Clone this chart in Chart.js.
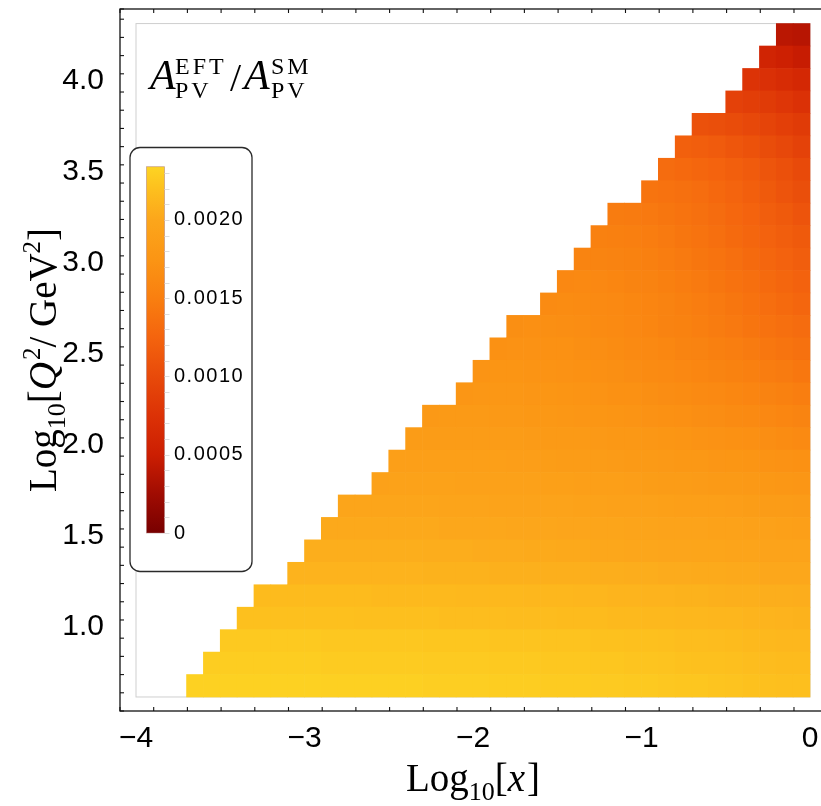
<!DOCTYPE html>
<html><head><meta charset="utf-8">
<script src="https://cdn.jsdelivr.net/npm/chart.js@4/dist/chart.umd.min.js"></script>
<style>
html,body{margin:0;padding:0;background:#fff;overflow:hidden;}
#wrap{width:821px;height:806px;overflow:hidden;position:relative;background:#fff;}
canvas{display:block;}
</style></head><body>
<div id="wrap"><canvas id="c" width="832" height="806"></canvas></div>
<script>
// ---------------- data ----------------
const xLabelTicks = [-4, -3, -2, -1, 0];
const yLabelTicks = [1.0, 1.5, 2.0, 2.5, 3.0, 3.5, 4.0];
const xMin = -4, xMax = 0, xBin = 0.1;          // log10 x
const yMin = 0.602, yMax = 4.301, nRows = 30;   // log10 Q^2
const valueUnit = 1e-5;                          // cell values below are in units of 1e-5
const rowStartX = [-3.7,-3.6,-3.5,-3.4,-3.3,-3.1,-3.0,-2.9,-2.8,-2.6,-2.5,-2.4,-2.3,-2.1,-2.0,-1.9,-1.8,-1.6,-1.5,-1.4,-1.3,-1.2,-1.0,-0.9,-0.8,-0.7,-0.5,-0.4,-0.3,-0.2];

const row00 = [232,232,232,232,232,232,232,232,231,231, 231,231,231,231,230,230,230,230,229,229, 229,228,228,228,227,227,226,226,225,224, 224,223,222,221,220,219,219];
const row01 = [229,229,229,229,229,229,229,228,228,228, 228,228,228,227,227,227,227,226,226,226, 225,225,225,224,224,223,223,222,221,220, 220,219,218,217,216,216];
const row02 = [226,226,226,226,226,226,225,225,225,225, 225,225,224,224,224,224,223,223,223,222, 222,222,221,221,220,220,219,218,218,217, 216,215,214,213,213];
const row03 = [220,220,220,220,220,220,220,219,219,219, 219,219,218,218,218,218,217,217,217,216, 216,216,215,215,214,214,213,213,212,212, 211,211,210,209];
const row04 = [216,216,216,216,216,216,216,215,215,215, 215,215,214,214,214,214,213,213,213,212, 212,211,211,210,210,209,209,208,207,207, 206,206,205];
const row05 = [210,210,210,210,210,210,210,210,209,209, 209,209,208,208,208,207,207,207,206,206, 205,205,204,204,203,203,202,202,201,201, 201];
const row06 = [206,206,206,206,206,206,206,205,205,205, 204,204,204,203,203,202,202,201,201,200, 200,199,199,198,198,197,197,196,196,196];
const row07 = [202,202,202,202,202,202,202,201,201,201, 201,200,200,200,199,199,198,198,197,197, 196,196,195,194,194,193,192,191,190];
const row08 = [198,198,198,198,198,198,197,197,197,196, 196,196,195,195,194,194,193,192,192,191, 190,189,189,188,187,186,185,184];
const row09 = [193,194,194,194,194,193,193,193,192,192, 191,191,190,190,189,188,187,186,185,184, 183,182,181,180,178,177];
const row10 = [189,190,190,190,190,189,189,188,188,187, 186,186,185,184,183,182,181,180,179,177, 176,175,173,172,170];
const row11 = [185,186,186,186,186,185,185,184,183,183, 182,181,180,179,178,176,175,173,172,170, 169,167,165,163];
const row12 = [181,182,182,182,181,181,180,179,178,177, 176,175,174,172,171,169,167,166,164,162, 160,158,156];
const row13 = [177,178,178,178,177,176,175,174,173,171, 170,168,166,165,163,161,159,157,154,152, 149];
const row14 = [174,175,175,174,173,172,171,169,168,166, 164,162,160,158,156,153,151,148,146,143];
const row15 = [171,172,172,171,170,168,167,165,163,161, 159,156,154,151,149,146,143,140,137];
const row16 = [168,169,168,167,166,164,162,160,158,155, 153,150,147,144,141,138,135,132];
const row17 = [164,165,164,163,161,159,157,154,151,148, 145,142,138,134,131,127];
const row18 = [160,161,160,158,156,154,151,148,145,142, 138,135,131,127,123];
const row19 = [156,156,155,153,151,148,145,142,139,135, 131,127,123,119];
const row20 = [152,151,150,148,145,142,139,135,131,127, 123,119,115];
const row21 = [147,146,144,142,139,136,132,128,124,119, 115,110];
const row22 = [140,138,136,133,129,125,120,115,110,105];
const row23 = [132,130,127,124,120,116,111,106,100];
const row24 = [121,119,116,112,108,103,98,92];
const row25 = [107,105,102,98,94,89,84];
const row26 = [91,88,84,79,74];
const row27 = [76,72,67,62];
const row28 = [57,52,47];
const row29 = [40,38];
const rows = [row00,row01,row02,row03,row04,row05,row06,row07,row08,row09,row10,row11,row12,row13,row14,
              row15,row16,row17,row18,row19,row20,row21,row22,row23,row24,row25,row26,row27,row28,row29];

const colorbarTicks = [0, 0.0005, 0.0010, 0.0015, 0.0020];
const colorbarLabels = ['0', '0.0005', '0.0010', '0.0015', '0.0020'];
const colorbarMax = 0.00234;
const colorbarMinorStep = 0.0001;

// ---------------- styling ----------------
const cmapStops  = [0, 25, 50, 75, 100, 125, 150, 175, 200, 220, 234];
const cmapColors = ['#780000','#a00c02','#cc1e02','#dc3206','#e84a0a','#f4640e','#f97f10','#fb9514','#fca61b','#fdc01e','#fdd423'];
function hex2rgb(h){return [parseInt(h.slice(1,3),16),parseInt(h.slice(3,5),16),parseInt(h.slice(5,7),16)];}
const cmapRGB = cmapColors.map(hex2rgb);
function colorFor(v){
  const t = v / valueUnit;
  if (t <= cmapStops[0]) return cmapColors[0];
  for (let i = 1; i < cmapStops.length; i++) {
    if (t <= cmapStops[i]) {
      const f = (t - cmapStops[i-1]) / (cmapStops[i] - cmapStops[i-1]);
      const a = cmapRGB[i-1], b = cmapRGB[i];
      return 'rgb(' + a.map((c,k)=>Math.round(c + (b[k]-c)*f)).join(',') + ')';
    }
  }
  return cmapColors[cmapColors.length-1];
}
const rowH = (yMax - yMin) / nRows;

const datasets = rows.map((vals, r) => ({
  data: vals.map((v, i) => ({ x: +(rowStartX[r] + (i + 0.5) * xBin).toFixed(3),
                              y: [yMin + r * rowH, yMin + (r + 1) * rowH] })),
  backgroundColor: vals.map(v => colorFor(v * valueUnit)),
  borderWidth: 0,
  grouped: false,
  barPercentage: 1,
  categoryPercentage: 1
}));

const SANS = "'Liberation Sans', Arial, sans-serif";
const SERIF = "'Liberation Serif', 'Times New Roman', serif";

function isInt(v){return Math.abs(v - Math.round(v)) < 1e-6;}
function isHalf(v){return Math.abs(v*2 - Math.round(v*2)) < 1e-6;}

function drawPieces(ctx, pieces, x0, y0, align){
  let total = 0;
  pieces.forEach(p => { ctx.font = p.font; ctx.letterSpacing = p.ls || '0px'; p.w = ctx.measureText(p.t).width + (p.gap||0); total += p.w; });
  let x = align === 'center' ? x0 - total/2 : x0;
  pieces.forEach(p => { ctx.font = p.font; ctx.letterSpacing = p.ls || '0px'; ctx.fillText(p.t, x, y0 + (p.dy||0)); x += p.w; });
  ctx.letterSpacing = '0px';
}

const regionBox = {
  id: 'regionBox',
  beforeDatasetsDraw(chart){
    const {ctx, scales:{x, y}} = chart;
    const l = x.getPixelForValue(xMin), r = x.getPixelForValue(xMax);
    const t = y.getPixelForValue(yMax), b = y.getPixelForValue(yMin);
    ctx.save();
    ctx.strokeStyle = '#cfcfcf'; ctx.lineWidth = 1;
    ctx.strokeRect(l, t, r - l, b - t);
    ctx.restore();
  }
};

const decorations = {
  id: 'decorations',
  afterDraw(chart){
    const {ctx, chartArea:a, scales:{x, y}} = chart;
    ctx.save();
    // frame
    ctx.strokeStyle = '#111'; ctx.lineWidth = 1.3;
    ctx.strokeRect(a.left, a.top, a.right - a.left, a.bottom - a.top);
    ctx.lineWidth = 1.1;
    const ln = (x1,y1,x2,y2)=>{ctx.beginPath();ctx.moveTo(x1,y1);ctx.lineTo(x2,y2);ctx.stroke();};
    x.ticks.forEach(t => {
      const px = x.getPixelForValue(t.value);
      const L = isInt(t.value) ? 7 : 4;
      ln(px, a.bottom, px, a.bottom - L);
      ln(px, a.top, px, a.top + L);
    });
    y.ticks.forEach(t => {
      const py = y.getPixelForValue(t.value);
      const L = isHalf(t.value) ? 7 : 4;
      ln(a.left, py, a.left + L, py);
      ln(a.right, py, a.right - L, py);
    });

    // tick labels
    ctx.fillStyle = '#000';
    ctx.font = '30px ' + SANS;
    ctx.textBaseline = 'alphabetic';
    ctx.textAlign = 'center';
    xLabelTicks.forEach(v => {
      const txt = v < 0 ? '\u2212' + Math.abs(v) : String(v);
      ctx.fillText(txt, x.getPixelForValue(v), 747);
    });
    ctx.textAlign = 'right';
    yLabelTicks.forEach(v => ctx.fillText(v.toFixed(1), 104, y.getPixelForValue(v) + 10.8));
    ctx.textAlign = 'left';

    // x-axis title
    const cx = (x.getPixelForValue(xMin) + x.getPixelForValue(xMax)) / 2;
    drawPieces(ctx, [
      {t:'Log', font:'39px ' + SERIF},
      {t:'10', font:'26px ' + SERIF, dy: 9},
      {t:'[', font:'39px ' + SERIF},
      {t:'x', font:'italic 39px ' + SERIF, gap: 2},
      {t:']', font:'39px ' + SERIF}
    ], cx, 791, 'center');
    // y-axis title
    ctx.save();
    ctx.translate(56, (a.top + a.bottom) / 2);
    ctx.rotate(-Math.PI / 2);
    drawPieces(ctx, [
      {t:'Log', font:'39px ' + SERIF},
      {t:'10', font:'26px ' + SERIF, dy: 9},
      {t:'[', font:'39px ' + SERIF},
      {t:'Q', font:'italic 39px ' + SERIF, gap: 2},
      {t:'2', font:'25px ' + SERIF, dy: -16},
      {t:'/ GeV', font:'39px ' + SERIF},
      {t:'2', font:'25px ' + SERIF, dy: -16},
      {t:']', font:'39px ' + SERIF}
    ], 0, 0, 'center');
    ctx.restore();

    // plot label A_PV^EFT / A_PV^SM
    ctx.font = 'italic 42px ' + SERIF; ctx.fillText('A', 150, 89);
    ctx.font = '24px ' + SERIF; ctx.letterSpacing = '3px';
    ctx.fillText('EFT', 175, 74); ctx.fillText('PV', 175, 98);
    ctx.letterSpacing = '0px';
    ctx.font = '40px ' + SERIF; ctx.fillText('/', 230, 91);
    ctx.font = 'italic 42px ' + SERIF; ctx.fillText('A', 244, 89);
    ctx.font = '24px ' + SERIF; ctx.letterSpacing = '3px';
    ctx.fillText('SM', 271, 74); ctx.fillText('PV', 271, 98);
    ctx.letterSpacing = '0px';

    // colorbar legend
    const bx = 130, by = 147.5, bw = 122, bh = 424;
    ctx.fillStyle = '#fff'; ctx.strokeStyle = '#2a2a2a'; ctx.lineWidth = 1.3;
    ctx.beginPath(); ctx.roundRect(bx, by, bw, bh, 10); ctx.fill(); ctx.stroke();
    const barL = 146.5, barR = 164.5, barTop = 166.7, barBot = 533;
    const vy = v => barBot - v / colorbarMax * (barBot - barTop);
    const g = ctx.createLinearGradient(0, barBot, 0, barTop);
    cmapStops.forEach((s, i) => g.addColorStop(Math.min(1, s * valueUnit / colorbarMax), cmapColors[i]));
    ctx.fillStyle = g;
    ctx.fillRect(barL, barTop, barR - barL, barBot - barTop);
    ctx.strokeStyle = 'rgba(170,120,120,0.6)'; ctx.lineWidth = 0.8;
    ctx.strokeRect(barL, barTop, barR - barL, barBot - barTop);
    ctx.strokeStyle = '#dddddd'; ctx.lineWidth = 1;
    for (let v = 0; v <= colorbarMax + 1e-12; v += colorbarMinorStep) {
      const py = Math.round(vy(v)) + 0.5;
      ln(barR, py, barR + 5, py);
    }
    ctx.fillStyle = '#000'; ctx.font = '20px ' + SANS; ctx.textBaseline = 'middle';
    ctx.letterSpacing = '1.5px';
    colorbarTicks.forEach((v, i) => ctx.fillText(colorbarLabels[i], 174, vy(v)));
    ctx.letterSpacing = '0px';
    ctx.restore();
  }
};

const zeroPad = s => { s.paddingTop = 0; s.paddingBottom = 0; s.paddingLeft = 0; s.paddingRight = 0; };

new Chart(document.getElementById('c'), {
  type: 'bar',
  data: { datasets },
  options: {
    responsive: false,
    devicePixelRatio: 1,
    animation: false,
    events: [],
    layout: { padding: { top: 9, right: 6, left: 0, bottom: 0 } },
    plugins: { legend: { display: false }, tooltip: { enabled: false } },
    scales: {
      x: {
        type: 'linear', offset: false, bounds: 'data',
        min: -4.095, max: 0.095,
        grid: { display: false, drawTicks: false }, border: { display: false },
        ticks: { display: false, stepSize: 0.2, includeBounds: false, autoSkip: false },
        afterFit: s => { s.height = 95; zeroPad(s); }
      },
      y: {
        type: 'linear', bounds: 'data', beginAtZero: false,
        min: 0.525, max: 4.381,
        grid: { display: false, drawTicks: false }, border: { display: false },
        ticks: { display: false, stepSize: 0.1, includeBounds: false, autoSkip: false },
        afterFit: s => { s.width = 120; zeroPad(s); }
      }
    }
  },
  plugins: [regionBox, decorations]
});
</script>
</body></html>
